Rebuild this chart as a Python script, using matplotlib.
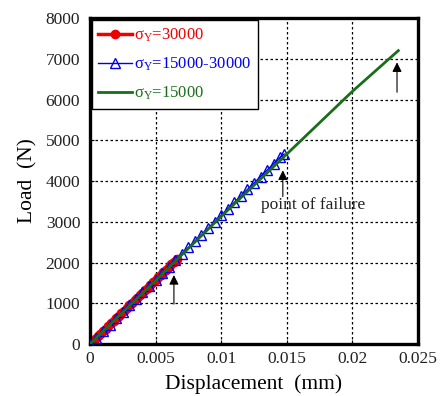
import matplotlib
matplotlib.use("Agg")
import matplotlib.pyplot as plt

plt.rcParams['font.family'] = ['Liberation Serif', 'DejaVu Serif']
plt.rcParams['mathtext.fontset'] = 'custom'
plt.rcParams['mathtext.rm'] = 'Liberation Serif'
plt.rcParams['mathtext.it'] = 'Liberation Serif'

# sigma_Y = 30000 (dense circles)
disp_30 = [0, 0.0002, 0.0004, 0.0006, 0.0008, 0.0010, 0.0012, 0.0014, 0.0016, 0.0018,
           0.0020, 0.0022, 0.0024, 0.0026, 0.0028, 0.0030, 0.0032, 0.0034, 0.0036, 0.0038,
           0.0040, 0.0042, 0.0044, 0.0046, 0.0048, 0.0050, 0.0052, 0.0054, 0.0056, 0.0058,
           0.0060, 0.0062, 0.0064, 0.0066]
load_30 = [0, 63, 126, 189, 252, 315, 378, 441, 504, 567,
           630, 693, 756, 819, 882, 945, 1008, 1071, 1134, 1197,
           1260, 1323, 1386, 1449, 1512, 1575, 1638, 1701, 1764, 1827,
           1890, 1953, 2016, 2079]

# sigma_Y = 15000-30000 (open triangles)
disp_mix = [0, 0.0005, 0.0010, 0.0015, 0.0020, 0.0025, 0.0030, 0.0035, 0.0040, 0.0045,
            0.0050, 0.0055, 0.0060, 0.0065, 0.0070, 0.0075, 0.0080, 0.0085, 0.0090, 0.0095,
            0.0100, 0.0105, 0.0110, 0.0115, 0.0120, 0.0125, 0.0130, 0.0135, 0.0140, 0.0145,
            0.0148]
load_mix = [0, 158, 316, 474, 632, 790, 948, 1106, 1264, 1422,
            1580, 1738, 1896, 2054, 2212, 2370, 2528, 2686, 2844, 3002,
            3160, 3318, 3476, 3634, 3792, 3950, 4108, 4266, 4424, 4582,
            4660]

# sigma_Y = 15000 (line)
disp_15 = [0, 0.005, 0.010, 0.015, 0.020, 0.0235]
load_15 = [0, 1560, 3130, 4660, 6200, 7200]

# arrows: (x, y_start, y_end)
arrows = [(0.0064, 910, 1760), (0.0147, 3550, 4330), (0.0234, 6110, 6980)]

fig = plt.figure(figsize=(4.43, 3.96), dpi=100)
ax = fig.add_axes([0.203, 0.1313, 0.7406, 0.8232])

ax.plot(disp_mix, load_mix, color='#0000ee', lw=1.0, marker='^', ms=6.5,
        mfc='none', mec='#0000ee', mew=1.0, zorder=3, label=r'σ$_\mathrm{Y}$=15000-30000')
ax.plot(disp_15, load_15, color='#1a6e1a', lw=2.0, zorder=4, label=r'σ$_\mathrm{Y}$=15000')
ax.plot(disp_30, load_30, color='#ee0000', lw=2.5, marker='o', ms=6,
        mfc='#ee0000', mec='#ee0000', zorder=2, label=r'σ$_\mathrm{Y}$=30000')

for x, y0, y1 in arrows:
    ax.annotate('', xy=(x, y1), xytext=(x, y0),
                arrowprops=dict(arrowstyle='-|>', color='black', lw=0.8,
                                mutation_scale=14), zorder=5)

ax.text(0.0130, 3400, 'point of failure', fontsize=12.5, va='center', ha='left', color='#222222')

ax.set_xlim(0, 0.025)
ax.set_ylim(0, 8000)
ax.set_xticks([0, 0.005, 0.01, 0.015, 0.02, 0.025])
ax.set_xticklabels(['0', '0.005', '0.01', '0.015', '0.02', '0.025'])
ax.set_yticks(range(0, 8001, 1000))
ax.tick_params(direction='in', length=3, labelsize=12.5, labelcolor='#222222')
ax.tick_params(axis='y', pad=7)
ax.tick_params(axis='x', pad=5)
ax.grid(True, color='black', linestyle=(0, (2, 2)), lw=0.9)
for s in ax.spines.values():
    s.set_linewidth(2.4)

ax.set_xlabel('Displacement  (mm)', fontsize=15.5, labelpad=5)
ax.set_ylabel('Load  (N)', fontsize=15.5, labelpad=6)

handles, labels = ax.get_legend_handles_labels()
order = [2, 0, 1]
leg = ax.legend([handles[i] for i in order], [labels[i] for i in order],
                loc='upper left', bbox_to_anchor=(0.0, 1.0), fontsize=12,
                frameon=True, fancybox=False, framealpha=1, edgecolor='black',
                handlelength=2.0, handletextpad=0.15, borderaxespad=0.1,
                labelspacing=0.7, borderpad=0.4)
leg.get_frame().set_linewidth(1.0)
for t, c in zip(leg.get_texts(), ['#ee0000', '#0000ee', '#1a6e1a']):
    t.set_color(c)

fig.savefig('out.png', dpi=100)
